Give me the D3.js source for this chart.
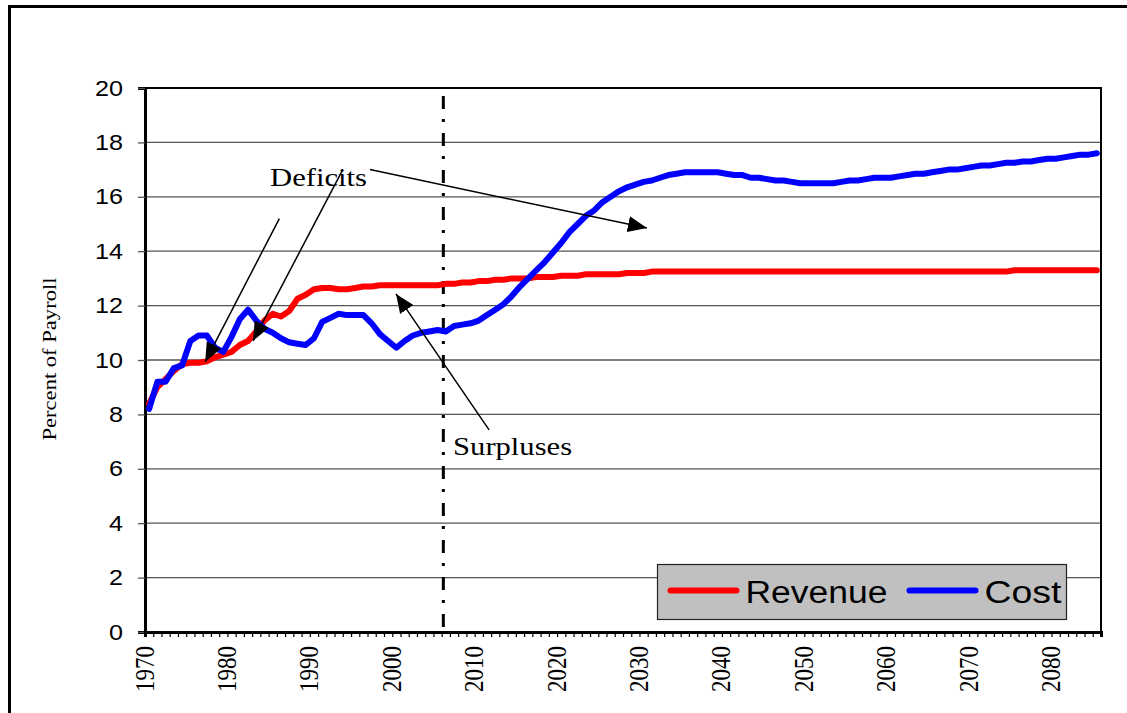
<!DOCTYPE html>
<html>
<head>
<meta charset="utf-8">
<script src="https://cdn.jsdelivr.net/npm/d3@7"></script>
<style>
  body { margin: 0; background: #fff; }
  svg { display: block; }
</style>
</head>
<body>
<div id="chart"></div>
<script>
// Years on the category axis
const years = d3.range(1970, 2086);

// Percent of payroll
const revenue = [
  8.4, 9.0, 9.3, 9.6, 9.85, 9.9, 9.9, 9.95, 10.1, 10.2,
  10.3, 10.55, 10.7, 11.05, 11.45, 11.7, 11.6, 11.8, 12.25, 12.4,
  12.6, 12.65, 12.65, 12.6, 12.6, 12.65, 12.7, 12.7, 12.75, 12.75,
  12.75, 12.75, 12.75, 12.75, 12.75, 12.75, 12.8, 12.8, 12.85, 12.85,
  12.9, 12.9, 12.95, 12.95, 13.0, 13.0, 13.0, 13.05, 13.05, 13.05,
  13.1, 13.1, 13.1, 13.15, 13.15, 13.15, 13.15, 13.15, 13.2, 13.2,
  13.2, 13.25, 13.25, 13.25, 13.25, 13.25, 13.25, 13.25, 13.25, 13.25,
  13.25, 13.25, 13.25, 13.25, 13.25, 13.25, 13.25, 13.25, 13.25, 13.25,
  13.25, 13.25, 13.25, 13.25, 13.25, 13.25, 13.25, 13.25, 13.25, 13.25,
  13.25, 13.25, 13.25, 13.25, 13.25, 13.25, 13.25, 13.25, 13.25, 13.25,
  13.25, 13.25, 13.25, 13.25, 13.25, 13.3, 13.3, 13.3, 13.3, 13.3,
  13.3, 13.3, 13.3, 13.3, 13.3, 13.3
];

const cost = [
  8.2, 9.2, 9.2, 9.7, 9.8, 10.7, 10.9, 10.9, 10.45, 10.3,
  10.85, 11.5, 11.85, 11.45, 11.15, 11.0, 10.8, 10.65, 10.6, 10.55,
  10.8, 11.4, 11.55, 11.7, 11.65, 11.65, 11.65, 11.35, 10.95, 10.7,
  10.45, 10.7, 10.9, 11.0, 11.05, 11.1, 11.05, 11.25, 11.3, 11.35,
  11.45, 11.65, 11.85, 12.05, 12.35, 12.7, 13.0, 13.3, 13.6, 13.95,
  14.3, 14.7, 15.0, 15.3, 15.5, 15.8, 16.0, 16.2, 16.35, 16.45,
  16.55, 16.6, 16.7, 16.8, 16.85, 16.9, 16.9, 16.9, 16.9, 16.9,
  16.85, 16.8, 16.8, 16.7, 16.7, 16.65, 16.6, 16.6, 16.55, 16.5,
  16.5, 16.5, 16.5, 16.5, 16.55, 16.6, 16.6, 16.65, 16.7, 16.7,
  16.7, 16.75, 16.8, 16.85, 16.85, 16.9, 16.95, 17.0, 17.0, 17.05,
  17.1, 17.15, 17.15, 17.2, 17.25, 17.25, 17.3, 17.3, 17.35, 17.4,
  17.4, 17.45, 17.5, 17.55, 17.55, 17.6
];

const yTicks = [0, 2, 4, 6, 8, 10, 12, 14, 16, 18, 20];
const xLabelYears = [1970, 1980, 1990, 2000, 2010, 2020, 2030, 2040, 2050, 2060, 2070, 2080];
const dividerYear = 2006.2;

const seriesNames = ['Revenue', 'Cost'];
const seriesColors = ['#ff0000', '#0000ff'];

// Annotations in data units: [x1, y1, x2, y2]
const deficitArrows = [
  [1986.3, 15.2, 1977.3, 9.93],
  [1994.0, 17.0, 1983.1, 10.7],
  [1997.3, 17.0, 2030.9, 14.85]
];
const surplusArrow = [2011.75, 7.43, 2000.46, 12.43];

const width = 1127;
const height = 713;
const margin = {top: 88, left: 145, right: 26, bottom: 81};

const svg = d3.select('#chart')
  .append('svg')
  .attr('width', width)
  .attr('height', height);

svg.append('rect')
  .attr('width', width)
  .attr('height', height)
  .attr('fill', '#fff');

// outer frame
svg.append('rect')
  .attr('x', 9.5)
  .attr('y', 6.5)
  .attr('width', 1125)
  .attr('height', 720)
  .attr('fill', 'none')
  .attr('stroke', '#000')
  .attr('stroke-width', 3);

const x = d3.scaleLinear()
  .domain([1970, 2086])
  .range([margin.left, width - margin.right]);

const y = d3.scaleLinear()
  .domain([0, 20])
  .range([height - margin.bottom, margin.top]);

// gridlines
svg.append('g')
  .selectAll('line')
  .data(yTicks.filter(d => d > 0 && d < 20))
  .enter()
  .append('line')
  .attr('x1', x(1970))
  .attr('x2', x(2086))
  .attr('y1', d => y(d))
  .attr('y2', d => y(d))
  .attr('stroke', '#555')
  .attr('stroke-width', 1.3);

// plot frame (top + right)
svg.append('path')
  .attr('d', `M${x(1970)},${y(20)} H${x(2086)} V${y(0)}`)
  .attr('fill', 'none')
  .attr('stroke', '#000')
  .attr('stroke-width', 2);

// y-axis
const yAxis = svg.append('g')
  .attr('transform', `translate(${x(1970)}, 0)`)
  .call(d3.axisLeft(y).tickValues(yTicks).tickSize(7).tickPadding(15));
yAxis.select('.domain').attr('stroke-width', 3);
yAxis.selectAll('.tick line').attr('stroke', '#555').attr('stroke-width', 1.3);
yAxis.selectAll('text')
  .style('font-family', '"Liberation Sans", Arial, sans-serif')
  .style('font-size', '22px')
  .attr('fill', '#000')
  .attr('textLength', d => String(d).length * 14)
  .attr('lengthAdjust', 'spacingAndGlyphs');

// x-axis: a tick every year, labels every ten
const xAxis = svg.append('g')
  .attr('transform', `translate(0, ${y(0)})`)
  .call(d3.axisBottom(x).tickValues(d3.range(1970, 2087)).tickSize(5).tickFormat(''));
xAxis.select('.domain').attr('stroke-width', 3);
xAxis.selectAll('.tick line').attr('stroke-width', 1.2);

svg.append('g')
  .selectAll('text')
  .data(xLabelYears)
  .enter()
  .append('text')
  .attr('transform', d => `translate(${x(d) - 1}, ${y(0) + 14}) rotate(-90)`)
  .attr('text-anchor', 'end')
  .attr('dominant-baseline', 'central')
  .attr('textLength', 46)
  .attr('lengthAdjust', 'spacingAndGlyphs')
  .style('font-family', '"Liberation Serif", "Times New Roman", serif')
  .style('font-size', '28px')
  .text(d => d);

// y-axis title
svg.append('text')
  .attr('transform', `translate(50, 359) rotate(-90)`)
  .attr('text-anchor', 'middle')
  .attr('dominant-baseline', 'central')
  .attr('textLength', 163)
  .attr('lengthAdjust', 'spacingAndGlyphs')
  .style('font-family', '"Liberation Serif", "Times New Roman", serif')
  .style('font-size', '18px')
  .text('Percent of Payroll');

// divider line
svg.append('line')
  .attr('x1', x(dividerYear))
  .attr('x2', x(dividerYear))
  .attr('y1', y(20) + 8)
  .attr('y2', y(0))
  .attr('stroke', '#000')
  .attr('stroke-width', 3)
  .attr('stroke-dasharray', '13,10,3,11');

// data lines
const line = d3.line()
  .x((d, i) => x(years[i] + 0.5))
  .y(d => y(d));

[revenue, cost].forEach((values, i) => {
  svg.append('path')
    .datum(values)
    .attr('d', line)
    .attr('fill', 'none')
    .attr('stroke', seriesColors[i])
    .attr('stroke-width', 6)
    .attr('stroke-linejoin', 'round')
    .attr('stroke-linecap', 'round');
});

// arrows
svg.append('defs')
  .append('marker')
  .attr('id', 'arrowHead')
  .attr('markerUnits', 'userSpaceOnUse')
  .attr('markerWidth', 20)
  .attr('markerHeight', 16)
  .attr('refX', 19)
  .attr('refY', 8)
  .attr('orient', 'auto')
  .append('path')
  .attr('d', 'M0,0 L19,8 L0,16 Z')
  .attr('fill', '#000');

deficitArrows.concat([surplusArrow]).forEach(a => {
  svg.append('line')
    .attr('x1', x(a[0]))
    .attr('y1', y(a[1]))
    .attr('x2', x(a[2]))
    .attr('y2', y(a[3]))
    .attr('stroke', '#000')
    .attr('stroke-width', 1.5)
    .attr('marker-end', 'url(#arrowHead)');
});

svg.append('text')
  .attr('x', x(1985.17))
  .attr('y', y(16.4))
  .attr('textLength', 97)
  .attr('lengthAdjust', 'spacingAndGlyphs')
  .style('font-family', '"Liberation Serif", "Times New Roman", serif')
  .style('font-size', '26px')
  .text('Deficits');

svg.append('text')
  .attr('x', x(2007.38))
  .attr('y', y(6.51))
  .attr('textLength', 119)
  .attr('lengthAdjust', 'spacingAndGlyphs')
  .style('font-family', '"Liberation Serif", "Times New Roman", serif')
  .style('font-size', '26px')
  .text('Surpluses');

// legend
const legend = svg.append('g').attr('transform', 'translate(657.5, 564.5)');
legend.append('rect')
  .attr('width', 409)
  .attr('height', 55)
  .attr('fill', '#c0c0c0')
  .attr('stroke', '#222')
  .attr('stroke-width', 1.2);

const legendItems = [
  {x1: 13, x2: 79, tx: 88, tw: 142},
  {x1: 252, x2: 318, tx: 327, tw: 77}
];
legendItems.forEach((item, i) => {
  legend.append('line')
    .attr('x1', item.x1)
    .attr('x2', item.x2)
    .attr('y1', 26)
    .attr('y2', 26)
    .attr('stroke', seriesColors[i])
    .attr('stroke-width', 6)
    .attr('stroke-linecap', 'round');
  legend.append('text')
    .attr('x', item.tx)
    .attr('y', 38)
    .attr('textLength', item.tw)
    .attr('lengthAdjust', 'spacingAndGlyphs')
    .style('font-family', '"Liberation Sans", Arial, sans-serif')
    .style('font-size', '31px')
    .text(seriesNames[i]);
});
</script>
</body>
</html>
